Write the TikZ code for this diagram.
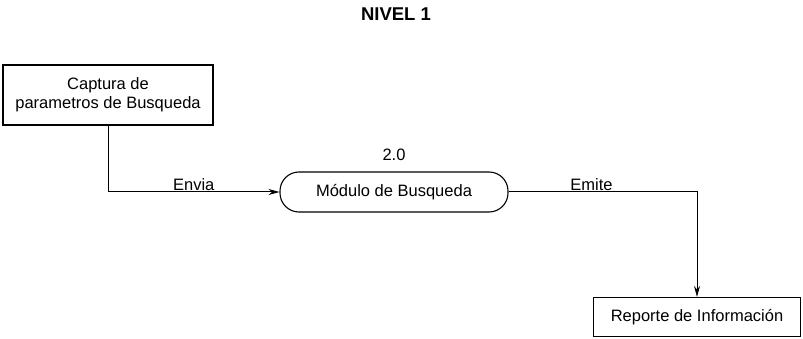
\documentclass[tikz,border=0pt]{standalone}
\usepackage{fontspec}
\setmainfont{Liberation Sans}
\usetikzlibrary{arrows.meta}
\begin{document}
\begin{tikzpicture}[x=1pt,y=-1pt,
  every node/.style={font=\fontsize{16.5}{19}\selectfont},
  boxnode/.style={draw,line width=1.1pt,minimum width=#1,align=center,inner sep=0pt},
  flow/.style={line width=1pt,-{Stealth[length=11pt,width=6pt]}},
  lbl/.style={inner sep=1pt}]
\useasboundingbox (0,0) rectangle (803,339);
\node[font=\fontsize{18.5}{20}\bfseries\selectfont] (title) at (396,14) {NIVEL 1};
\node[boxnode=210pt,minimum height=60pt] (cap) at (108,95) {Captura de\\parametros de Busqueda};
\node[boxnode=228pt,minimum height=40pt,rounded corners=19pt] (mod) at (394,192) {Módulo de Busqueda};
\node (num) at (394,155) {2.0};
\node[boxnode=207pt,minimum height=39pt] (rep) at (697,317) {Reporte de Información};
\draw[flow] (cap.south) |- (mod.west) node[lbl,pos=0.75,above] (envia) {Envia};
\draw[flow] (mod.east) -| (rep.north) node[lbl,pos=0.22,above] (emite) {Emite};
\end{tikzpicture}
\end{document}
